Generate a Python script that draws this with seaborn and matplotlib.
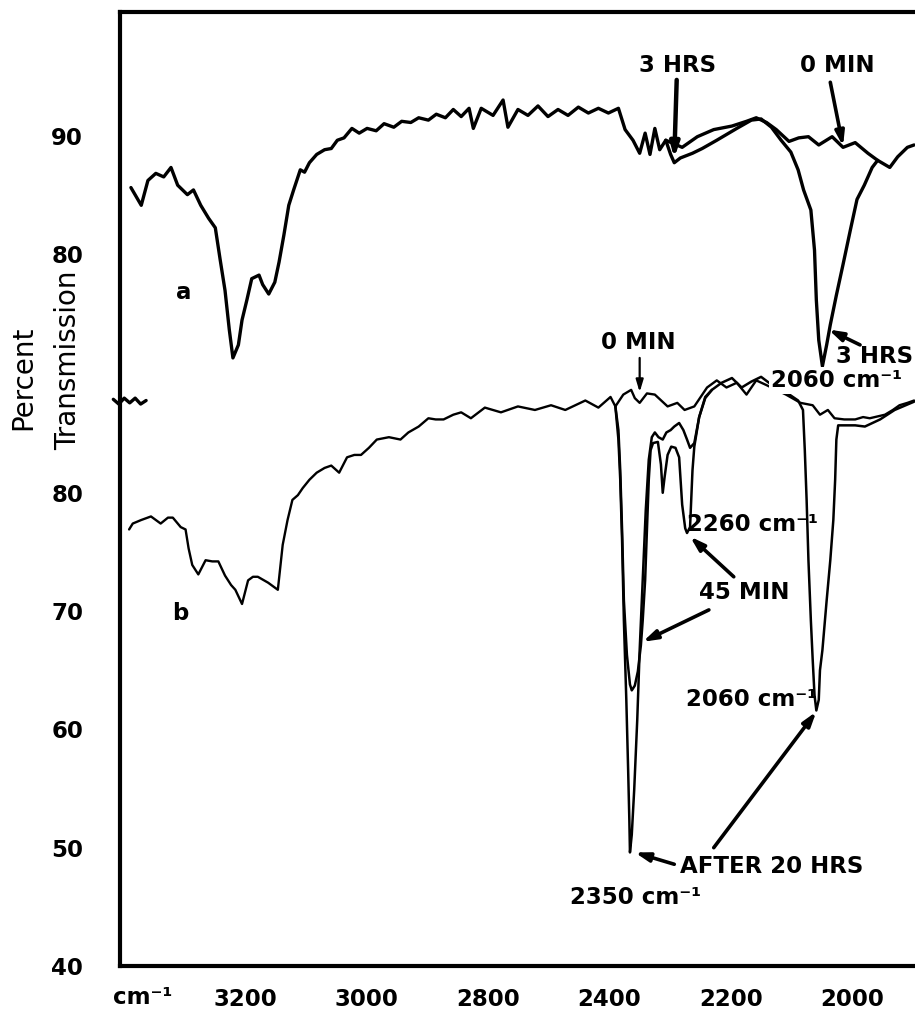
import numpy as np
import matplotlib
matplotlib.use("Agg")
import matplotlib.pyplot as plt
from matplotlib.ticker import NullLocator
import seaborn as sns

# Spectrum a (upper trace), percent transmission on its own scale
A0_WN = [3388, 3371, 3360, 3347, 3334, 3322, 3311, 3295, 3285, 3273, 3260, 3249, 3241, 3233, 3226,
         3220, 3211, 3205, 3197, 3189, 3177, 3171, 3161, 3151, 3144, 3136, 3128, 3120, 3109, 3102,
         3094, 3082, 3069, 3058, 3048, 3037, 3024, 3012, 2999, 2984, 2971, 2955, 2942, 2927, 2914,
         2898, 2885, 2870, 2857, 2844, 2831, 2824, 2811, 2783, 2750, 2734, 2701, 2668, 2635, 2602,
         2569, 2536, 2502, 2469, 2436, 2403, 2385, 2374, 2361, 2350, 2341, 2333, 2325, 2317, 2307,
         2280, 2255, 2228, 2198, 2174, 2158, 2141, 2125, 2104, 2088, 2072, 2055, 2033, 2015, 1995,
         1974, 1958, 1938, 1925, 1909, 1898]
A0_PCT = [85.6, 84.1, 86.2, 86.8, 86.5, 87.3, 85.8, 85.0, 85.4, 84.1, 83.0, 82.2, 79.5, 76.9, 73.6,
          71.2, 72.3, 74.4, 76.1, 77.9, 78.2, 77.4, 76.6, 77.6, 79.3, 81.6, 84.1, 85.4, 87.1, 86.9,
          87.7, 88.4, 88.8, 88.9, 89.6, 89.8, 90.6, 90.2, 90.6, 90.4, 91.0, 90.7, 91.2, 91.1, 91.5,
          91.3, 91.8, 91.5, 92.2, 91.6, 92.3, 90.6, 92.3, 91.7, 93.0, 90.7, 92.2, 91.7, 92.5, 91.6,
          92.2, 91.7, 92.4, 91.9, 92.3, 91.9, 92.3, 90.5, 89.6, 88.5, 90.2, 88.4, 90.6, 88.8, 89.6,
          89.0, 89.9, 90.5, 90.8, 91.2, 91.5, 91.1, 90.5, 89.5, 89.8, 89.9, 89.2, 89.9, 89.0, 89.4,
          88.5, 87.9, 87.3, 88.2, 89.0, 89.2]
# a after 3 hrs (only where it departs from the 0 min trace)
A3_WN = [2307, 2299, 2293, 2283, 2263, 2247, 2223, 2190, 2166, 2150, 2133, 2117, 2101, 2089, 2080,
         2068, 2062, 2059, 2055, 2049, 2042, 2036, 2026, 2015, 2003, 1992, 1980, 1967, 1958]
A3_PCT = [89.6, 88.4, 87.7, 88.1, 88.5, 88.9, 89.6, 90.6, 91.3, 91.4, 90.7, 89.6, 88.6, 87.1, 85.4,
          83.7, 80.3, 76.1, 72.7, 70.5, 72.3, 74.0, 76.5, 79.1, 82.0, 84.6, 85.8, 87.3, 87.9]

# Spectrum b (lower trace)
B0_WN = [3391, 3385, 3371, 3355, 3339, 3327, 3319, 3306, 3298, 3293, 3287, 3277, 3265, 3254, 3244,
         3233, 3223, 3216, 3205, 3195, 3187, 3179, 3162, 3146, 3138, 3130, 3122, 3113, 3105, 3094,
         3082, 3069, 3058, 3045, 3032, 3020, 3009, 2996, 2983, 2963, 2944, 2931, 2914, 2898, 2886,
         2873, 2857, 2844, 2828, 2805, 2757, 2701, 2645, 2592, 2545, 2479, 2436, 2398, 2390, 2377,
         2364, 2358, 2350, 2338, 2325, 2304, 2288, 2276, 2260, 2239, 2223, 2207, 2190, 2174, 2158,
         2141, 2109, 2085, 2065, 2053, 2040, 2029, 2013, 1995, 1982, 1971, 1946, 1933, 1922, 1909,
         1898]
B0_PCT = [76.9, 77.4, 77.7, 78.0, 77.4, 77.9, 77.9, 77.1, 76.9, 75.3, 73.9, 73.1, 74.3, 74.2, 74.2,
          73.0, 72.2, 71.8, 70.6, 72.6, 72.9, 72.9, 72.4, 71.8, 75.6, 77.7, 79.4, 79.8, 80.4, 81.1,
          81.7, 82.1, 82.3, 81.7, 83.0, 83.2, 83.2, 83.8, 84.5, 84.7, 84.5, 85.1, 85.6, 86.3, 86.2,
          86.2, 86.6, 86.8, 86.3, 87.2, 86.8, 87.3, 87.0, 87.4, 87.0, 87.8, 87.2, 88.1, 87.3, 88.3,
          88.7, 88.0, 87.6, 88.4, 88.3, 87.3, 87.6, 87.0, 87.3, 88.9, 89.5, 88.9, 89.3, 88.3, 89.5,
          89.1, 88.3, 87.6, 87.4, 86.6, 87.0, 86.3, 86.2, 86.2, 86.4, 86.3, 86.6, 87.0, 87.4, 87.6,
          87.8]
B45_WN = [2390, 2385, 2382, 2379, 2376, 2371, 2366, 2363, 2358, 2353, 2348, 2345, 2341, 2338, 2335,
          2332, 2328, 2320, 2315, 2312, 2309, 2304, 2298, 2291, 2285, 2280, 2275, 2272, 2267, 2263,
          2260, 2252, 2242, 2231]
B45_PCT = [87.3, 85.3, 81.9, 76.9, 70.9, 66.3, 63.8, 63.3, 63.7, 64.9, 67.1, 69.2, 72.6, 76.9, 81.1,
           83.6, 84.2, 84.3, 82.4, 80.0, 81.3, 83.2, 83.9, 83.8, 83.0, 79.0, 77.0, 76.6, 77.1, 81.9,
           83.9, 86.4, 88.0, 88.7]
B20_WN = [2390, 2385, 2382, 2379, 2376, 2372, 2369, 2367, 2366, 2363, 2359, 2354, 2350, 2345, 2340,
          2335, 2330, 2325, 2319, 2312, 2306, 2299, 2293, 2285, 2278, 2272, 2267, 2260, 2252, 2242,
          2231, 2215, 2198, 2182, 2166, 2150, 2137, 2109, 2089, 2081, 2078, 2075, 2072, 2068, 2065,
          2062, 2059, 2055, 2053, 2049, 2042, 2036, 2031, 2028, 2026, 2023, 2011, 1995, 1979, 1954,
          1930, 1898]
B20_PCT = [87.3, 84.5, 81.1, 76.0, 69.2, 62.5, 56.6, 52.3, 49.6, 51.1, 54.9, 60.8, 66.7, 72.6, 78.5,
           82.8, 84.7, 85.1, 84.7, 84.5, 85.1, 85.3, 85.6, 85.9, 85.3, 84.5, 83.8, 84.2, 86.4, 88.1,
           88.7, 89.3, 89.7, 88.9, 89.4, 89.8, 89.3, 88.5, 87.8, 87.0, 83.6, 79.4, 74.3, 69.2, 65.9,
           62.9, 61.6, 62.5, 65.0, 66.7, 70.9, 74.3, 77.7, 81.1, 84.5, 85.7, 85.7, 85.7, 85.6, 86.2,
           87.0, 87.7]
# pen mark where trace b starts, left of the axis
REF_WN = [3417, 3408, 3399, 3390, 3381, 3372, 3363]
REF_PCT = [87.9, 87.5, 88.0, 87.6, 88.0, 87.5, 87.8]

A_OFFSET = 20.2  # spectrum a sits above spectrum b on the chart

X_TICKS = [3200, 3000, 2800, 2400, 2200, 2000]
Y_TICKS_B = [40, 50, 60, 70, 80]
Y_TICKS_A = [80, 90]

# chart paper: 200 cm-1 per division, except 2800-2400 (400 per division)
WN_BREAKS = [1800, 2000, 2200, 2400, 2800, 3000, 3200, 3400, 3600]
DIVS = np.arange(len(WN_BREAKS), dtype=float)


def fwd(w):
    return np.interp(w, WN_BREAKS, DIVS)


def inv(d):
    return np.interp(d, DIVS, WN_BREAKS)


sns.set_theme(style="white")
plt.rcParams['font.family'] = ['DejaVu Sans']

fig = plt.figure(figsize=(9.15, 10.15), dpi=100)
ax = fig.add_axes([120 / 915, 49 / 1015, 805 / 915, 954 / 1015])
ax.set_xscale('function', functions=(fwd, inv))


def trace(wn, pct, lw, offset=0.0, clip=True):
    sns.lineplot(x=wn, y=np.array(pct) + offset, estimator=None, sort=False,
                 color='black', lw=lw, ax=ax, legend=False)
    if not clip:
        ax.lines[-1].set_clip_on(False)


trace(A0_WN, A0_PCT, 2.4, A_OFFSET)
trace(A3_WN, A3_PCT, 2.4, A_OFFSET)
trace(B0_WN, B0_PCT, 1.7)
trace(B45_WN, B45_PCT, 1.8)
trace(B20_WN, B20_PCT, 1.8)
trace(REF_WN, REF_PCT, 2.4, clip=False)

ax.set_xlim(3406, 1880)
ax.set_ylim(40, 120.64)
ax.set_xticks(X_TICKS)
ax.set_xticklabels([str(t) for t in X_TICKS])
ax.xaxis.set_minor_locator(NullLocator())
ax.set_yticks(Y_TICKS_B + [t + A_OFFSET for t in Y_TICKS_A])
ax.set_yticklabels([str(t) for t in Y_TICKS_B + Y_TICKS_A])
ax.yaxis.set_minor_locator(NullLocator())
ax.set_xlabel('')
ax.set_ylabel('')
ax.grid(False)

for side in ['left', 'bottom', 'top']:
    ax.spines[side].set_linewidth(3)
    ax.spines[side].set_color('black')
ax.spines['right'].set_visible(False)

ax.tick_params(axis='both', direction='inout', length=13, width=2.2,
               color='black', labelcolor='black', labelsize=16.5)
ax.tick_params(axis='x', pad=9)
ax.tick_params(axis='y', pad=20)
for lab in ax.get_xticklabels() + ax.get_yticklabels():
    lab.set_fontweight('bold')

txt = dict(color='black', fontsize=16.5, fontweight='bold', ha='center', va='center')
arr = dict(arrowstyle='-|>,head_length=0.7,head_width=0.22', color='black', lw=2.6,
           shrinkA=0, shrinkB=0)
thin = dict(arr, lw=1.6, arrowstyle='-|>,head_length=0.6,head_width=0.18')

# spectrum a labels
ax.text(3301, 96.9, 'a', **txt)
ax.text(2288, 116.1, '3 HRS', **txt)
ax.annotate('', xy=(2293, 108.3), xytext=(2289, 114.9), arrowprops=dict(arr, lw=3.2))
ax.text(2024, 116.1, '0 MIN', **txt)
ax.annotate('', xy=(2015, 109.3), xytext=(2036, 114.7), arrowprops=arr)
ax.text(1963, 91.5, '3 HRS', **txt)
ax.annotate('', xy=(2039, 93.8), xytext=(1987, 92.5), arrowprops=arr)
# the label was pasted over the pen trace in the original
ax.text(2026, 89.5, '2060 cm⁻¹', zorder=5,
        bbox=dict(facecolor='white', edgecolor='none', pad=1.5), **txt)

# spectrum b labels
ax.text(3306, 69.8, 'b', **txt)
ax.text(2353, 92.7, '0 MIN', **txt)
ax.annotate('', xy=(2350, 88.5), xytext=(2350, 91.4), arrowprops=thin)
ax.text(2164, 77.3, '2260 cm⁻¹', **txt)
ax.text(2177, 71.6, '45 MIN', **txt)
ax.annotate('', xy=(2267, 76.3), xytext=(2195, 72.9), arrowprops=arr)
ax.annotate('', xy=(2345, 67.4), xytext=(2236, 70.1), arrowprops=arr)
ax.text(2166, 62.5, '2060 cm⁻¹', **txt)
ax.text(2133, 48.4, 'AFTER 20 HRS', **txt)
ax.annotate('', xy=(2358, 49.6), xytext=(2293, 48.6), arrowprops=arr)
ax.annotate('', xy=(2059, 61.5), xytext=(2228, 50.0), arrowprops=arr)
ax.text(2356, 45.8, '2350 cm⁻¹', **txt)

# axis captions
fig.text(143 / 915, 1 - 998 / 1015, 'cm⁻¹', color='black', fontsize=16.5,
         fontweight='bold', ha='center', va='center')
fig.text(23 / 915, 1 - 378 / 1015, 'Percent', color='black', fontsize=20,
         rotation=90, ha='center', va='center')
fig.text(68 / 915, 1 - 360 / 1015, 'Transmission', color='black', fontsize=20,
         rotation=90, ha='center', va='center')

fig.savefig('out.png', dpi=100)
